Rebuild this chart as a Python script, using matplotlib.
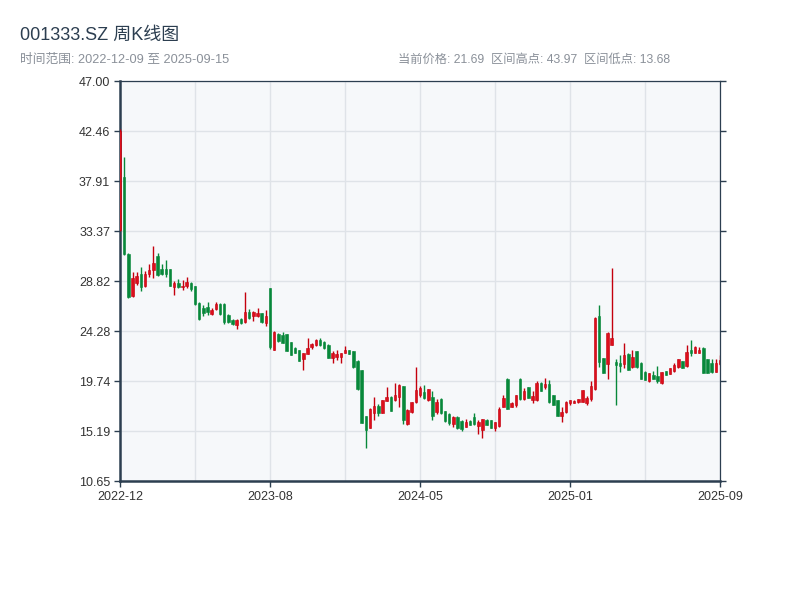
import matplotlib
matplotlib.use("Agg")
import matplotlib.pyplot as plt
import numpy as np

plt.rcParams['font.family'] = ['Liberation Sans', 'Noto Sans CJK SC', 'DejaVu Sans']

title = "001333.SZ 周K线图"
subtitle = "时间范围: 2022-12-09 至 2025-09-15"
stats_text = "当前价格: 21.69  区间高点: 43.97  区间低点: 13.68"

x_tick_labels = ['2022-12', '2023-08', '2024-05', '2025-01', '2025-09']
y_tick_labels = ['10.65', '15.19', '19.74', '24.28', '28.82', '33.37', '37.91', '42.46', '47.00']

opens = [33.46, 38.3, 31.3, 27.46, 28.6, 29.5, 28.4, 29.5, 29.8, 31.1,
         29.9, 29.9, 29.9, 28.25, 28.6, 28.25, 28.4, 28.6, 28.4, 26.8,
         26.4, 26.5, 25.8, 26.3, 26.7, 26.7, 25.7, 25.3, 24.8, 25.4,
         25.1, 26.0, 25.6, 25.6, 25.9, 25.05, 28.2, 22.6, 24.0, 23.9,
         24.0, 23.3, 22.7, 22.55, 21.7, 22.2, 22.85, 23.0, 23.5, 23.3,
         23.05, 21.8, 21.95, 21.9, 22.3, 22.55, 22.5, 21.6, 20.7, 16.55,
         15.5, 16.8, 17.45, 16.86, 17.95, 18.3, 18.0, 18.3, 19.3, 15.85,
         16.9, 17.8, 18.5, 18.7, 18.0, 18.3, 16.9, 18.1, 17.0, 16.7,
         15.85, 16.5, 16.1, 15.6, 16.1, 16.5, 15.65, 15.3, 16.2, 16.2,
         15.5, 15.65, 17.4, 19.95, 17.4, 17.55, 19.9, 18.1, 19.2, 18.0,
         18.0, 19.6, 19.2, 19.5, 18.45, 18.05, 16.55, 16.95, 17.7, 17.75,
         17.8, 17.85, 17.7, 18.1, 19.0, 25.6, 21.8, 21.3, 23.05, 21.5,
         21.4, 21.3, 22.2, 21.05, 22.45, 21.4, 20.6, 19.7, 20.3, 20.15,
         19.6, 20.65, 20.35, 20.65, 21.0, 21.55, 21.1, 22.55, 22.3, 22.3,
         22.75, 21.7, 21.4, 20.6, 21.3]
closes = [42.5, 31.3, 27.4, 29.07, 29.3, 28.3, 29.5, 29.8, 30.5, 29.4,
          29.5, 29.5, 28.4, 28.6, 28.3, 28.4, 28.7, 28.1, 26.7, 25.4,
          25.9, 26.0, 26.2, 26.7, 25.8, 25.1, 25.1, 24.9, 25.3, 25.0,
          26.0, 25.5, 26.0, 25.9, 25.1, 25.6, 22.8, 24.2, 23.4, 23.2,
          22.5, 22.1, 22.3, 21.6, 22.25, 22.7, 23.1, 23.5, 23.0, 22.7,
          21.85, 22.25, 22.2, 22.25, 22.55, 22.2, 21.0, 19.0, 15.95, 15.3,
          17.2, 17.45, 16.8, 18.0, 18.25, 17.05, 18.5, 19.4, 16.2, 17.1,
          17.8, 18.9, 19.1, 18.15, 19.0, 16.6, 17.85, 16.8, 16.1, 15.9,
          16.5, 15.5, 15.35, 16.0, 15.75, 15.8, 16.05, 16.25, 15.75, 15.5,
          16.0, 17.2, 18.15, 17.2, 17.75, 18.45, 18.1, 18.85, 18.2, 18.35,
          19.6, 18.85, 19.45, 17.8, 17.6, 16.55, 16.95, 17.85, 18.0, 17.95,
          18.1, 18.95, 18.2, 19.3, 25.5, 21.5, 20.5, 24.1, 23.6, 21.2,
          21.1, 22.1, 20.75, 21.95, 21.0, 19.95, 19.85, 20.45, 19.95, 19.7,
          20.55, 20.3, 20.95, 21.2, 21.7, 20.9, 22.35, 22.25, 22.8, 22.6,
          20.45, 20.5, 20.55, 21.4, 21.69]
highs = [42.6, 40.1, 31.4, 29.67, 29.6, 30.1, 29.7, 30.4, 32.0, 31.4,
         30.4, 30.7, 29.9, 28.8, 29.0, 28.9, 29.2, 28.7, 28.4, 26.9,
         26.65, 26.95, 26.4, 26.9, 26.8, 26.8, 25.8, 25.4, 25.4, 25.45,
         27.85, 26.3, 26.1, 26.4, 25.9, 26.2, 28.22, 24.3, 24.1, 24.2,
         24.0, 23.3, 22.8, 22.6, 22.3, 23.6, 23.2, 23.55, 23.6, 23.4,
         23.1, 22.5, 22.55, 22.3, 22.9, 22.6, 22.5, 21.65, 20.75, 16.6,
         17.25, 18.25, 17.65, 18.05, 19.15, 18.35, 19.55, 19.45, 19.3, 17.15,
         17.85, 21.0, 19.3, 19.4, 19.05, 18.8, 18.1, 18.15, 17.05, 16.85,
         16.55, 16.55, 16.15, 16.3, 16.2, 16.85, 16.15, 16.25, 16.3, 16.2,
         16.05, 17.4, 18.45, 20.0, 17.8, 18.5, 20.0, 19.1, 19.2, 18.85,
         19.7, 19.65, 19.98, 19.8, 18.5, 18.05, 17.4, 17.9, 18.05, 18.0,
         18.1, 18.95, 18.4, 19.75, 25.55, 26.65, 21.85, 24.15, 30.05, 21.75,
         22.1, 23.2, 22.25, 22.6, 22.5, 21.5, 20.65, 20.5, 20.65, 21.1,
         20.55, 20.65, 20.95, 21.4, 21.7, 21.6, 23.05, 23.45, 22.95, 22.85,
         22.85, 21.7, 21.7, 21.7, 22.1]
lows = [33.4, 31.2, 27.3, 27.4, 28.5, 27.9, 28.3, 29.2, 29.1, 29.3,
        29.4, 29.2, 28.4, 27.55, 28.2, 28.0, 28.2, 27.9, 26.6, 25.3,
        25.6, 25.75, 25.7, 26.2, 25.7, 24.95, 25.0, 24.85, 24.45, 24.95,
        25.05, 25.4, 25.2, 25.55, 25.05, 24.7, 22.65, 22.55, 23.3, 23.2,
        22.5, 22.1, 22.3, 21.55, 20.7, 22.15, 22.65, 22.95, 22.9, 22.65,
        21.8, 21.4, 21.65, 21.4, 22.25, 22.15, 20.95, 18.95, 15.9, 13.68,
        15.45, 16.2, 16.6, 16.85, 17.9, 17.0, 17.95, 17.35, 15.85, 15.75,
        16.85, 17.75, 18.3, 18.1, 17.95, 16.2, 16.75, 16.75, 16.05, 15.75,
        15.6, 15.4, 15.2, 15.55, 15.7, 15.75, 14.95, 14.6, 15.7, 15.45,
        15.2, 15.6, 17.35, 17.2, 17.35, 17.4, 18.05, 18.0, 18.2, 17.75,
        17.9, 18.85, 19.05, 17.75, 17.6, 16.55, 16.05, 16.85, 17.6, 17.7,
        17.75, 17.8, 17.6, 17.95, 18.9, 21.05, 20.5, 19.95, 23.0, 17.55,
        20.6, 20.95, 20.7, 20.9, 20.9, 19.9, 19.8, 19.65, 19.95, 19.6,
        19.45, 20.3, 20.35, 20.6, 20.95, 20.9, 21.05, 22.0, 22.3, 22.3,
        20.45, 20.5, 20.5, 20.55, 21.2]

UP_FACE = '#dc0f1c'
UP_EDGE = '#c4000d'
DOWN = '#07883a'
DARK = '#2c3e50'

fig = plt.figure(figsize=(8, 6), dpi=100)
fig.patch.set_facecolor('white')
ax = fig.add_axes([120/800, 119/600, 600/800, 400/600])
ax.set_facecolor('#f6f8fa')

n = len(opens)
idx = np.arange(n)
o = np.array(opens); c = np.array(closes); h = np.array(highs); l = np.array(lows)
up = c >= o
face = [UP_FACE if u else DOWN for u in up]
edge = [UP_EDGE if u else DOWN for u in up]

ax.vlines(idx, l, h, colors=edge, linewidth=1.0, zorder=3)
bottoms = np.minimum(o, c)
heights = np.maximum(np.abs(c - o), 0.06)
ax.bar(idx, heights, bottom=bottoms, width=0.6, color=face, edgecolor=edge,
       linewidth=0.4, zorder=4)

y_ticks = np.linspace(10.65, 47.0, 9)
ax.set_ylim(10.65, 47.0)
ax.set_yticks(y_ticks)
ax.set_yticklabels(y_tick_labels)
ax.set_xlim(0, n - 1)
ax.set_xticks([0, 36, 72, 108, 144])
ax.set_xticklabels(x_tick_labels)
ax.set_xticks([18, 54, 90, 126], minor=True)

ax.grid(True, which='both', axis='x', color='#dfe3e8', linewidth=1.0, zorder=0)
ax.grid(True, which='major', axis='y', color='#dfe3e8', linewidth=1.0, zorder=0)
ax.set_axisbelow(True)

for side in ['left', 'bottom']:
    ax.spines[side].set_color(DARK)
    ax.spines[side].set_linewidth(1.8)
for side in ['right', 'top']:
    ax.spines[side].set_color(DARK)
    ax.spines[side].set_linewidth(0.9)

ax.tick_params(axis='y', which='major', direction='out', length=4, width=1,
               color=DARK, labelsize=9, labelcolor='#333333', right=True,
               labelright=False, pad=3)
ax.tick_params(axis='x', which='major', direction='out', length=4, width=1,
               color=DARK, labelsize=9, labelcolor='#333333', pad=3)
ax.tick_params(axis='x', which='minor', length=0)

fig.text(20/800, 1 - 35/600, title, fontsize=13, color=DARK, va='center', ha='left')
fig.text(20/800, 1 - 59.5/600, subtitle, fontsize=9.2, color='#8a9099', va='center', ha='left')
fig.text(670/800, 1 - 59.5/600, stats_text, fontsize=8.8, color='#8a9099', va='center', ha='right')

fig.savefig('out.png', dpi=100, facecolor='white')
